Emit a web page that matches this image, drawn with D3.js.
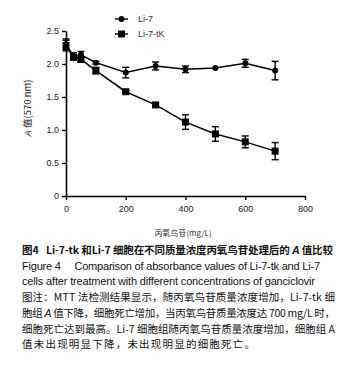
<!DOCTYPE html>
<html>
<head>
<meta charset="utf-8">
<script src="https://cdn.jsdelivr.net/npm/d3@7"></script>
<style>
  body { margin: 0; background: #fff; }
  svg { display: block; }
</style>
</head>
<body>
<div id="chart"></div>
<script>
// doses of ganciclovir (mg/L)
const doses = [0, 25, 50, 100, 200, 300, 400, 500, 600, 700];
const li7Mean = [2.30, 2.12, 2.14, 2.02, 1.87, 1.97, 1.92, 1.94, 2.01, 1.90];
const li7Err  = [0.08, 0.05, 0.05, 0.02, 0.08, 0.06, 0.05, 0.00, 0.06, 0.14];
const tkMean  = [2.28, 2.10, 2.07, 1.90, 1.58, 1.38, 1.12, 0.94, 0.82, 0.68];
const tkErr   = [0.08, 0.04, 0.04, 0.05, 0.02, 0.02, 0.11, 0.11, 0.09, 0.13];
const xTicks = [0, 200, 400, 600, 800];
const yTicks = [0, 0.5, 1.0, 1.5, 2.0, 2.5];
const seriesNames = ["Li-7", "Li-7-tK"];

const captionLines = [
  "图4\u2002 Li-7-tk 和Li-7 细胞在不同质量浓度丙氧鸟苷处理后的 A 值比较",
  "Figure 4\u2003 Comparison of absorbance values of Li-7-tk and Li-7",
  "cells after treatment with different concentrations of ganciclovir",
  "图注：MTT 法检测结果显示，随丙氧鸟苷质量浓度增加，Li-7-tk 细",
  "胞组 A 值下降，细胞死亡增加，当丙氧鸟苷质量浓度达 700 mg/L 时，",
  "细胞死亡达到最高。Li-7 细胞组随丙氧鸟苷质量浓度增加，细胞组 A",
  "值未出现明显下降，未出现明显的细胞死亡。"
];

const width = 357, height = 368;
const svg = d3.select("#chart").append("svg")
    .attr("width", width)
    .attr("height", height);

const x = d3.scaleLinear().domain([0, 800]).range([66, 305]);
const y = d3.scaleLinear().domain([0, 2.5]).range([196, 31]);

const tickFont = "Liberation Sans, Arial, sans-serif";

// axes
svg.append("g")
    .attr("transform", `translate(0,${y(0)})`)
    .call(d3.axisBottom(x).tickValues(xTicks).tickSize(4).tickSizeOuter(0).tickFormat(d3.format("d")))
    .call(g => g.select(".domain").attr("stroke-width", 1.6))
    .call(g => g.selectAll(".tick line").attr("stroke-width", 1.4))
    .call(g => g.selectAll("text").attr("font-size", 9).attr("font-family", tickFont)
        .attr("fill", "#222").attr("dy", "0.95em"));

svg.append("g")
    .attr("transform", `translate(${x(0)},0)`)
    .call(d3.axisLeft(y).tickValues(yTicks).tickSize(4).tickSizeOuter(0)
        .tickFormat(d => d === 0 ? "0" : d3.format(".1f")(d)))
    .call(g => g.select(".domain").attr("stroke-width", 1.6))
    .call(g => g.selectAll(".tick line").attr("stroke-width", 1.4))
    .call(g => g.selectAll("text").attr("font-size", 9).attr("font-family", tickFont)
        .attr("fill", "#222").attr("x", -7));

// axis titles
svg.append("text")
    .attr("x", 183).attr("y", 236)
    .attr("text-anchor", "middle")
    .attr("font-size", 8)
    .attr("font-family", "Noto Sans CJK SC, sans-serif")
    .attr("fill", "#333")
    .text("丙氧鸟苷(mg/L)");

const yTitle = svg.append("text")
    .attr("transform", "translate(31,108) rotate(-90)")
    .attr("text-anchor", "middle")
    .attr("font-size", 9.5)
    .attr("font-family", "Noto Sans CJK SC, sans-serif")
    .attr("fill", "#222");
yTitle.append("tspan").attr("font-style", "italic").attr("font-family", tickFont).text("A ");
yTitle.append("tspan").text("值(570 nm)");

// series
const series = [
  { name: seriesNames[0], mean: li7Mean, err: li7Err, shape: "circle" },
  { name: seriesNames[1], mean: tkMean, err: tkErr, shape: "square" }
];

const line = d3.line().x(d => x(d.dose)).y(d => y(d.mean));

series.forEach(s => {
  const pts = doses.map((d, i) => ({ dose: d, mean: s.mean[i], err: s.err[i] }));
  const g = svg.append("g");
  g.append("path")
      .datum(pts)
      .attr("d", line)
      .attr("fill", "none")
      .attr("stroke", "#000")
      .attr("stroke-width", 1.5);

  // error bars
  const eb = g.selectAll(".eb").data(pts.filter(p => p.err > 0)).enter().append("g");
  eb.append("line")
      .attr("x1", d => x(d.dose)).attr("x2", d => x(d.dose))
      .attr("y1", d => y(d.mean - d.err)).attr("y2", d => y(d.mean + d.err))
      .attr("stroke", "#000").attr("stroke-width", 1.4);
  [-1, 1].forEach(sign => {
    eb.append("line")
        .attr("x1", d => x(d.dose) - 3.5).attr("x2", d => x(d.dose) + 3.5)
        .attr("y1", d => y(d.mean + sign * d.err)).attr("y2", d => y(d.mean + sign * d.err))
        .attr("stroke", "#000").attr("stroke-width", 1.4);
  });

  if (s.shape === "circle") {
    g.selectAll("circle").data(pts).enter().append("circle")
        .attr("cx", d => x(d.dose)).attr("cy", d => y(d.mean))
        .attr("r", 3).attr("fill", "#000");
  } else {
    g.selectAll("rect").data(pts).enter().append("rect")
        .attr("x", d => x(d.dose) - 3.5).attr("y", d => y(d.mean) - 3.5)
        .attr("width", 7).attr("height", 7).attr("fill", "#000");
  }
});

// legend
const legend = svg.append("g").attr("transform", "translate(115,19)");
series.forEach((s, i) => {
  const row = legend.append("g").attr("transform", `translate(0,${i * 15})`);
  row.append("line").attr("x1", 0).attr("x2", 13).attr("stroke", "#000").attr("stroke-width", 1.4);
  if (s.shape === "circle") {
    row.append("circle").attr("cx", 6.5).attr("cy", 0).attr("r", 3).attr("fill", "#000");
  } else {
    row.append("rect").attr("x", 3).attr("y", -3.5).attr("width", 7).attr("height", 7).attr("fill", "#000");
  }
  row.append("text").attr("x", 23).attr("dy", "0.35em")
      .attr("font-size", 9).attr("font-family", tickFont).attr("fill", "#333")
      .text(s.name);
});

// caption: lines are justified, so fit each to its width in the original
const lineY = [254, 269.5, 285, 301, 317, 332.5, 348];
const lineLen = [311, 298, 293, 313, 313, 313, 233];
const caption = svg.append("g").attr("font-family", "Noto Sans CJK SC, Liberation Sans, sans-serif");
captionLines.forEach((t, i) => {
  const txt = caption.append("text")
      .attr("x", 22).attr("y", lineY[i])
      .attr("font-size", 10.5)
      .attr("fill", "#111")
      .attr("textLength", lineLen[i])
      .attr("lengthAdjust", "spacing");
  if (i === 0) txt.attr("font-weight", "bold");
  if (i === 1 || i === 2) txt.attr("font-family", tickFont).attr("font-size", 11);
  // italic "A"
  const parts = t.split(/( A )/);
  parts.forEach(p => {
    if (p === " A ") {
      txt.append("tspan").text(" ");
      txt.append("tspan").attr("font-style", "italic").attr("font-family", tickFont).text("A");
      txt.append("tspan").text(" ");
    } else {
      txt.append("tspan").text(p);
    }
  });
});
</script>
</body>
</html>
